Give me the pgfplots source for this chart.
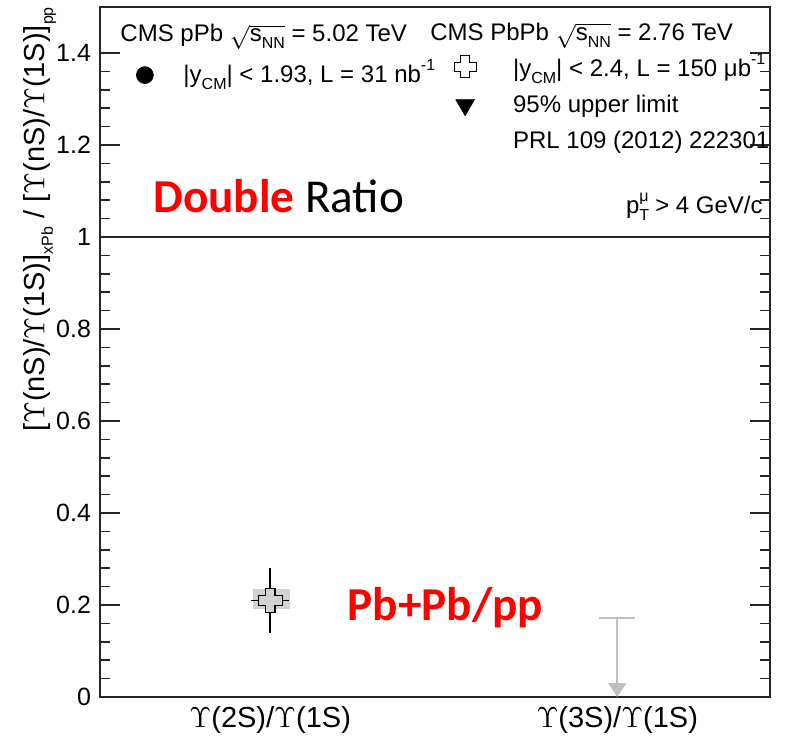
\documentclass[border=0pt]{standalone}
\usepackage{fontspec}
\setmainfont{Liberation Sans}
\newfontfamily\calibri{Carlito}
\usepackage{pgfplots}
\pgfplotsset{compat=1.18}
\usetikzlibrary{arrows.meta}

% ROOT-style open cross marker
\pgfdeclareplotmark{ocross}{%
  \pgfmathsetlengthmacro{\ca}{0.4*\pgfplotmarksize}%
  \pgfpathmoveto{\pgfqpoint{-\ca}{\pgfplotmarksize}}%
  \pgfpathlineto{\pgfqpoint{\ca}{\pgfplotmarksize}}%
  \pgfpathlineto{\pgfqpoint{\ca}{\ca}}%
  \pgfpathlineto{\pgfqpoint{\pgfplotmarksize}{\ca}}%
  \pgfpathlineto{\pgfqpoint{\pgfplotmarksize}{-\ca}}%
  \pgfpathlineto{\pgfqpoint{\ca}{-\ca}}%
  \pgfpathlineto{\pgfqpoint{\ca}{-\pgfplotmarksize}}%
  \pgfpathlineto{\pgfqpoint{-\ca}{-\pgfplotmarksize}}%
  \pgfpathlineto{\pgfqpoint{-\ca}{-\ca}}%
  \pgfpathlineto{\pgfqpoint{-\pgfplotmarksize}{-\ca}}%
  \pgfpathlineto{\pgfqpoint{-\pgfplotmarksize}{\ca}}%
  \pgfpathlineto{\pgfqpoint{-\ca}{\ca}}%
  \pgfpathclose
  \pgfusepathqfillstroke
}

\newcommand{\sub}[1]{\raisebox{-0.55ex}{\fontsize{8}{8}\selectfont #1}}
\newcommand{\super}[1]{\raisebox{0.95ex}{\fontsize{8}{8}\selectfont #1}}
\newcommand{\Ups}{\ensuremath{\Upsilon}}
\newcommand{\txt}{\fontsize{12}{14.5}\selectfont}
\newcommand{\ticktxt}{\fontsize{12.5}{15}\selectfont}
\newcommand{\labtxt}{\fontsize{14.5}{17}\selectfont}

\begin{document}
\begin{tikzpicture}
\begin{axis}[
  scale only axis, width=335pt, height=345pt,
  xmin=0, xmax=1, ymin=0, ymax=1.5,
  clip=false,
  xtick={0.254,0.772},
  xticklabels={\Ups(2S)/\Ups(1S), \Ups(3S)/\Ups(1S)},
  x tick style={draw=none},
  ytick={0,0.2,0.4,0.6,0.8,1,1.2,1.4},
  minor y tick num=4,
  ytick pos=both,
  tick align=inside,
  major tick length=10pt, minor tick length=5pt,
  axis line style={line width=0.8pt, black!85},
  tick style={line width=0.8pt, black!85},
  /pgf/number format/assume math mode=true,
  yticklabel style={font=\ticktxt, xshift=-1pt},
  xticklabel style={font=\labtxt, yshift=-1pt},
  ylabel={[\Ups(nS)/\Ups(1S)]\sub{xPb} / [\Ups(nS)/\Ups(1S)]\sub{pp}},
  ylabel style={font=\labtxt, at={(rel axis cs:-0.055,1.01)}, anchor=south east},
]
% reference line at unity
\addplot[black!85, line width=0.8pt] coordinates {(0,1) (1,1)};

% Upsilon(2S)/Upsilon(1S): systematic box, statistical error, point
\addplot[draw=none, fill=gray!35] coordinates {(0.228,0.191) (0.284,0.191) (0.284,0.234) (0.228,0.234)} -- cycle;
\addplot[black, line width=0.8pt, mark=ocross, mark size=6pt,
  mark options={fill=gray!35, draw=black, line width=0.6pt},
  error bars/.cd, x dir=both, x explicit, y dir=both, y explicit,
  error mark=none, error bar style={line width=0.8pt, black}]
  coordinates {(0.254,0.21) +- (0.028,0.07)};

% Upsilon(3S)/Upsilon(1S): 95% upper limit
\addplot[gray!50, line width=1.2pt] coordinates {(0.745,0.172) (0.799,0.172)};
\addplot[gray!50, line width=1.2pt, -{Triangle[width=9pt,length=7pt]}]
  coordinates {(0.772,0.172) (0.772,0)};

% legend symbols
\addplot[only marks, mark=*, mark size=4.2pt, black] coordinates {(0.067,1.352)};
\addplot[only marks, mark=ocross, mark size=5.5pt,
  mark options={fill=white, draw=black, line width=0.6pt}] coordinates {(0.545,1.370)};
\addplot[only marks, mark=triangle*, mark size=5.3pt, mark options={rotate=180}, black]
  coordinates {(0.545,1.287)};

% legend texts
\begin{scope}[every node/.style={inner sep=0pt, font=\txt}]
\node[anchor=base west] at (axis cs:0.0299,1.424)
  {CMS pPb \ensuremath{\sqrt{\mbox{s\sub{NN}}}} = 5.02 TeV};
\node[anchor=base west] at (axis cs:0.124,1.335)
  {|y\sub{CM}| < 1.93, L = 31 nb\super{-1}};
\node[anchor=base west] at (axis cs:0.4925,1.428)
  {CMS PbPb \ensuremath{\sqrt{\mbox{s\sub{NN}}}} = 2.76 TeV};
\node[anchor=base west] at (axis cs:0.616,1.348)
  {|y\sub{CM}| < 2.4, L = 150 μb\super{-1}};
\node[anchor=base west] at (axis cs:0.616,1.270) {95\% upper limit};
\node[anchor=base west] at (axis cs:0.616,1.193) {PRL 109 (2012) 222301};
\node[anchor=base east] at (axis cs:0.9896,1.052)
  {p\raisebox{-0.55ex}{\rlap{\fontsize{8}{8}\selectfont T}}\super{μ} > 4 GeV/c};
\end{scope}

\node[anchor=base west, inner sep=0pt, font=\calibri\fontsize{23.6}{28}\selectfont]
  at (axis cs:0.079,1.054) {\textcolor{red}{\bfseries Double} Ratio};
\node[anchor=base west, inner sep=0pt, font=\calibri\bfseries\fontsize{23.6}{28}\selectfont, text=red]
  at (axis cs:0.369,0.167) {Pb+Pb/pp};
\end{axis}
\pgfresetboundingbox
\useasboundingbox ([shift={(-50pt,-21pt)}]current axis.south west)
  rectangle ([shift={(10pt,3.5pt)}]current axis.north east);
\end{tikzpicture}
\end{document}
